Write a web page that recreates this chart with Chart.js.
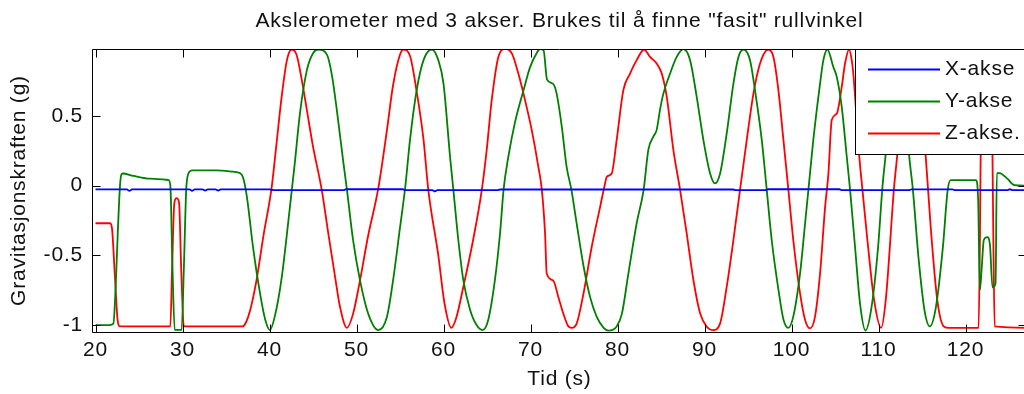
<!DOCTYPE html>
<html>
<head>
<meta charset="utf-8">
<script src="https://cdn.jsdelivr.net/npm/chart.js@4.4.1/dist/chart.umd.min.js"></script>
<style>
  html, body { margin: 0; padding: 0; background: #fff; overflow: hidden; }
  #wrap { width: 1034px; height: 394px; }
</style>
</head>
<body>
<div id="wrap"><canvas id="c" width="1034" height="394"></canvas></div>
<script>
// Accelerometer readings, [time (s), gravity (g)]
const xAkse = [
  [20, -0.027], [23.6, -0.027], [23.9, -0.038], [24.2, -0.027], [30.8, -0.027], [31.1, -0.037],
  [31.4, -0.027], [32.3, -0.027], [32.6, -0.036], [32.9, -0.027], [33.8, -0.027], [34.1, -0.036],
  [34.4, -0.027], [40.0, -0.027], [40.6, -0.033], [48.5, -0.033], [48.8, -0.026], [55.3, -0.026],
  [55.6, -0.033], [58.7, -0.033], [59.0, -0.042], [59.3, -0.033], [66.2, -0.033], [66.5, -0.028],
  [93.3, -0.028], [93.6, -0.033], [97.0, -0.033], [97.3, -0.026], [105.5, -0.026], [105.8, -0.033],
  [113.5, -0.033], [113.8, -0.027], [118.5, -0.027], [118.8, -0.033], [124.8, -0.033], [125.1, -0.026],
  [125.4, -0.033], [127, -0.033]
];

const yAkse = [
  [20, -1.0], [21.6, -1.0], [22.05, -0.99], [22.3, -0.75], [22.55, -0.35], [22.85, 0.03], [23.1, 0.087],
  [24.35, 0.07], [26.3, 0.05], [28.4, 0.04], [28.6, 0.0], [28.85, -0.6], [29.1, -1.035], [29.9, -1.035],
  [30.15, -0.6], [30.45, 0.0], [30.8, 0.10], [31.1, 0.11], [33.9, 0.11], [35.8, 0.10], [36.6, 0.09],
  [36.95, 0.06], [37.4, -0.08], [38.1, -0.44], [38.9, -0.77], [39.5, -0.96], [40.05, -1.036], [40.6, -0.94],
  [41.4, -0.66], [42.35, -0.15], [42.9, 0.16], [43.5, 0.52], [44.3, 0.83], [45.0, 0.95], [45.6, 0.976],
  [46.6, 0.94], [47.15, 0.80], [47.7, 0.56], [48.5, 0.16], [48.9, -0.03], [49.6, -0.39], [50.4, -0.68],
  [51.35, -0.92], [52.5, -1.036], [53.5, -0.94], [54.2, -0.68], [55.0, -0.30], [55.6, -0.01], [56.15, 0.33],
  [56.9, 0.68], [57.7, 0.90], [58.65, 0.976], [59.4, 0.90], [60.0, 0.73], [60.75, 0.207], [61.13, -0.03],
  [61.7, -0.39], [62.28, -0.68], [63.05, -0.89], [63.8, -1.0], [64.5, -1.036], [65.15, -0.96], [65.9, -0.68],
  [66.5, -0.34], [66.9, -0.03], [67.45, 0.207], [68.2, 0.45], [69.2, 0.685], [69.95, 0.85], [70.7, 0.95],
  [71.1, 0.98], [71.5, 0.97], [71.9, 0.76], [72.6, 0.73], [73.0, 0.66], [73.6, 0.42], [74.15, 0.135],
  [74.7, -0.03], [75.3, -0.27], [76.1, -0.58], [76.85, -0.80], [77.6, -0.94], [78.4, -1.02], [78.95, -1.04],
  [79.9, -1.01], [80.5, -0.92], [81.25, -0.63], [82.2, -0.27], [83.0, -0.03], [83.55, 0.26], [84.1, 0.35],
  [84.5, 0.40], [84.9, 0.55], [85.27, 0.66], [86.04, 0.804], [86.8, 0.923], [87.57, 0.98], [88.34, 0.90],
  [89.1, 0.637], [89.87, 0.326], [90.64, 0.087], [91.21, 0.016], [91.79, 0.087], [92.55, 0.374], [93.32, 0.732],
  [93.9, 0.923], [94.47, 0.976], [95.23, 0.90], [95.8, 0.685], [96.58, 0.326], [97.15, -0.03], [97.72, -0.39],
  [98.5, -0.749], [99.07, -0.96], [99.64, -1.02], [100.2, -0.94], [100.98, -0.63], [101.56, -0.27], [101.94, -0.03],
  [102.5, 0.326], [103.28, 0.732], [103.66, 0.90], [104.12, 0.976], [104.8, 0.852], [105.2, 0.78], [105.77, 0.565],
  [106.35, 0.207], [106.73, -0.03], [107.3, -0.44], [107.88, -0.85], [108.5, -1.04], [109.2, -0.87], [109.95, -0.44],
  [110.45, -0.01], [110.83, 0.23], [111.4, 0.65], [112.2, 0.95], [113.0, 0.65], [113.5, 0.23], [113.95, -0.03],
  [114.6, -0.52], [115.3, -0.90], [115.9, -1.01], [116.6, -0.87], [117.4, -0.44], [117.95, -0.03], [118.3, 0.04],
  [121.2, 0.04], [121.45, -0.1], [121.65, -0.75], [121.85, -0.6], [122.1, -0.39], [122.5, -0.37], [122.8, -0.42],
  [123.1, -0.73], [123.45, -0.70], [123.6, 0.09], [123.9, 0.09], [124.8, 0.05], [125.6, 0.004], [127, 0.0]
];

const zAkse = [
  [20, -0.27], [21.67, -0.27], [21.9, -0.31], [22.2, -0.62], [22.55, -0.97], [22.8, -1.01], [28.6, -1.01],
  [28.8, -0.6], [29.05, -0.13], [29.3, -0.09], [29.6, -0.12], [29.85, -0.6], [30.15, -1.01], [36.9, -1.01],
  [37.3, -0.98], [37.75, -0.9], [38.5, -0.68], [39.3, -0.36], [40.25, -0.01], [40.8, 0.30], [41.4, 0.64],
  [42.0, 0.90], [42.55, 0.976], [43.1, 0.94], [43.7, 0.76], [44.3, 0.54], [45.0, 0.28], [46.0, -0.03],
  [46.75, -0.34], [47.5, -0.64], [48.1, -0.87], [48.9, -1.02], [49.6, -0.92], [50.4, -0.68], [51.3, -0.37],
  [52.5, -0.02], [53.5, 0.40], [54.2, 0.72], [55.0, 0.94], [55.4, 0.976], [56.15, 0.93], [56.9, 0.68],
  [57.7, 0.33], [58.25, -0.03], [59.4, -0.5], [60.1, -0.84], [60.9, -1.02], [61.5, -0.94], [62.28, -0.725],
  [63.4, -0.39], [64.4, -0.03], [64.96, 0.255], [65.54, 0.613], [66.3, 0.923], [67.07, 0.983], [67.84, 0.95],
  [68.6, 0.804], [69.37, 0.613], [70.14, 0.398], [70.9, 0.135], [71.3, -0.03], [71.67, -0.343], [71.86, -0.63],
  [72.6, -0.68], [73.2, -0.80], [73.78, -0.92], [74.35, -1.01], [74.73, -1.02], [75.3, -0.99], [76.1, -0.77],
  [77.03, -0.44], [78.0, -0.152], [78.57, 0.016], [78.76, 0.063], [79.33, 0.087], [79.9, 0.326], [80.67, 0.685],
  [81.44, 0.804], [82.2, 0.90], [83.05, 0.976], [83.74, 0.923], [84.5, 0.876], [85.08, 0.804], [85.66, 0.637],
  [86.42, 0.255], [87.19, -0.03], [87.95, -0.343], [88.72, -0.677], [89.49, -0.916], [90.25, -1.012], [91.02, -1.036],
  [91.79, -0.988], [92.55, -0.725], [93.32, -0.39], [94.08, -0.03], [94.85, 0.326], [95.62, 0.66], [96.38, 0.876],
  [97.34, 0.976], [97.92, 0.923], [98.49, 0.685], [99.07, 0.326], [99.64, -0.03], [100.2, -0.39], [100.98, -0.773],
  [101.56, -0.964], [102.13, -1.024], [102.7, -0.94], [103.28, -0.63], [103.86, -0.152], [104.24, 0.087], [104.62, 0.47],
  [105.2, 0.517], [105.77, 0.708], [106.15, 0.876], [106.61, 0.976], [106.92, 0.90], [107.1, 0.804], [107.76, 0.23],
  [108.15, -0.03], [108.72, -0.39], [109.49, -0.82], [110.3, -1.02], [110.83, -0.82], [111.79, -0.01], [112.17, 0.23],
  [113.0, 0.80], [113.8, 0.97], [114.7, 0.70], [115.4, 0.23], [116.0, -0.30], [116.75, -0.82], [117.5, -1.01],
  [118.1, -1.02], [121.5, -1.02], [121.65, -0.4], [121.8, 0.6], [122.0, 0.9], [122.9, 0.9], [123.05, 0.5],
  [123.2, -0.4], [123.35, -1.01], [127, -1.02]
];

const seriesNames = ['X-akse', 'Y-akse', 'Z-akse.'];
const seriesColors = ['#0000ff', '#008000', '#ff0000'];
const xTicks = [20, 30, 40, 50, 60, 70, 80, 90, 100, 110, 120];
const yTicks = [-1, -0.5, 0, 0.5];
const xRange = [19.71, 126.95];
const yRange = [-1.05, 0.98];

const FONT = { family: '"Liberation Sans", Arial, Helvetica, sans-serif', size: 21 };
const LETTER_SPACING = '0.8px';
const TICK_LEN = 8;

const toPoints = rows => rows.map(([t, g]) => ({ x: t, y: g }));

// Slightly open letter spacing for every label on the canvas
const textSpacing = {
  id: 'textSpacing',
  beforeDraw(chart) { chart.ctx.letterSpacing = LETTER_SPACING; }
};

// Box around the axes with inward tick marks on all four sides
const axesBox = {
  id: 'axesBox',
  afterDatasetsDraw(chart) {
    const { ctx, chartArea: a, scales: { x, y } } = chart;
    const L = a.left - 0.5, R = a.right + 0.5, T = a.top + 0.5, B = a.bottom + 0.5;
    ctx.save();
    ctx.strokeStyle = '#000';
    ctx.lineWidth = 1;
    ctx.beginPath();
    ctx.rect(L, T, R - L, B - T);
    x.ticks.forEach(t => {
      const px = Math.round(x.getPixelForValue(t.value)) + 0.5;
      ctx.moveTo(px, B); ctx.lineTo(px, B - TICK_LEN);
      ctx.moveTo(px, T); ctx.lineTo(px, T + TICK_LEN);
    });
    y.ticks.forEach(t => {
      const py = Math.round(y.getPixelForValue(t.value)) + 0.5;
      ctx.moveTo(L, py); ctx.lineTo(L + TICK_LEN, py);
      ctx.moveTo(R, py); ctx.lineTo(R - TICK_LEN, py);
    });
    ctx.stroke();
    ctx.restore();
  }
};

// Boxed legend in the upper right corner of the axes
const boxedLegend = {
  id: 'boxedLegend',
  afterDraw(chart) {
    const { ctx, chartArea: a } = chart;
    const left = 855.5, top = a.top + 0.5, width = 200, height = 105, rowH = 32;
    ctx.save();
    ctx.fillStyle = '#fff';
    ctx.strokeStyle = '#000';
    ctx.lineWidth = 1;
    ctx.fillRect(left, top, width, height);
    ctx.strokeRect(left, top, width, height);
    ctx.font = `${FONT.size}px ${FONT.family}`;
    ctx.textBaseline = 'middle';
    ctx.textAlign = 'left';
    chart.data.datasets.forEach((ds, i) => {
      const cy = top + 20 + i * rowH;
      ctx.strokeStyle = ds.borderColor;
      ctx.lineWidth = 1.8;
      ctx.beginPath();
      ctx.moveTo(868, cy); ctx.lineTo(940, cy);
      ctx.stroke();
      ctx.fillStyle = '#111';
      ctx.fillText(ds.label, 945, cy);
    });
    ctx.restore();
  }
};

new Chart(document.getElementById('c'), {
  type: 'line',
  data: {
    datasets: [xAkse, yAkse, zAkse].map((rows, i) => ({
      label: seriesNames[i],
      data: toPoints(rows),
      borderColor: seriesColors[i],
      backgroundColor: seriesColors[i],
      borderWidth: 1.8,
      pointRadius: 0,
      fill: false,
      cubicInterpolationMode: 'monotone'
    }))
  },
  options: {
    responsive: false,
    animation: false,
    parsing: false,
    layout: { padding: { left: 0, right: 8, top: 0, bottom: 0 } },
    plugins: {
      legend: { display: false },
      tooltip: { enabled: false },
      title: {
        display: true,
        fullSize: false,
        text: 'Akslerometer med 3 akser. Brukes til å finne "fasit" rullvinkel',
        color: '#111',
        font: { ...FONT, weight: 'normal' },
        padding: { top: 8.4, bottom: 15.4 }
      }
    },
    scales: {
      x: {
        type: 'linear',
        min: xRange[0],
        max: xRange[1],
        afterFit: s => { s.height = 62; },
        afterBuildTicks: s => { s.ticks = xTicks.map(v => ({ value: v })); },
        grid: { display: false, drawTicks: false },
        border: { display: false },
        ticks: { color: '#111', font: FONT, padding: 6, maxRotation: 0, autoSkip: false },
        title: { display: true, text: 'Tid (s)', color: '#111', font: FONT, padding: { top: 0, bottom: 2 } }
      },
      y: {
        type: 'linear',
        min: yRange[0],
        max: yRange[1],
        afterFit: s => { s.width = 93; },
        afterBuildTicks: s => { s.ticks = yTicks.map(v => ({ value: v })); },
        grid: { display: false, drawTicks: false },
        border: { display: false },
        ticks: { color: '#111', font: FONT, padding: 10, callback: v => String(v) },
        title: { display: true, text: 'Gravitasjonskraften (g)', color: '#111', font: FONT, padding: { top: 7, bottom: 0 } }
      }
    }
  },
  plugins: [textSpacing, axesBox, boxedLegend]
});
</script>
</body>
</html>
